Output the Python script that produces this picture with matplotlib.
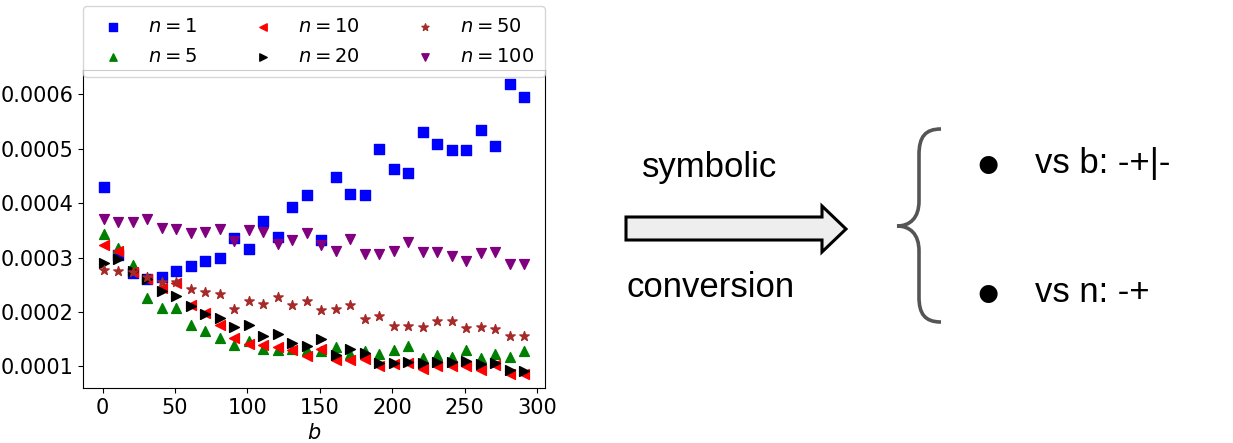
import numpy as np
import matplotlib
matplotlib.use("Agg")
import matplotlib.pyplot as plt
from matplotlib.path import Path
import matplotlib.patches as mpatches

W, H = 1233, 443

# block size b (x axis)
b_vals = [1, 11, 21, 31, 41, 51, 61, 71, 81, 91, 101, 111, 121, 131, 141,
          151, 161, 171, 181, 191, 201, 211, 221, 231, 241, 251, 261, 271, 281, 291]

n1 = [0.000430, 0.000304, 0.000272, 0.000261, 0.000264, 0.000275, 0.000285, 0.000294,
      0.000300, 0.000336, 0.000316, 0.000368, 0.000337, 0.000393, 0.000415, 0.000333,
      0.000448, 0.000416, 0.000415, 0.000500, 0.000463, 0.000455, 0.000530, 0.000508,
      0.000497, 0.000497, 0.000535, 0.000505, 0.000618, 0.000595]
n5 = [0.000343, 0.000317, 0.000287, 0.000226, 0.000208, 0.000208, 0.000177, 0.000166,
      0.000152, 0.000140, 0.000147, 0.000133, 0.000130, 0.000133, 0.000131, 0.000128,
      0.000135, 0.000123, 0.000129, 0.000123, 0.000130, 0.000137, 0.000115, 0.000121,
      0.000117, 0.000130, 0.000115, 0.000123, 0.000117, 0.000129]
n10 = [0.000323, 0.000313, 0.000274, 0.000261, 0.000244, 0.000254, 0.000212, 0.000198,
       0.000176, 0.000152, 0.000142, 0.000139, 0.000136, 0.000130, 0.000120, 0.000133,
       0.000112, 0.000112, 0.000114, 0.000101, 0.000104, 0.000106, 0.000095, 0.000100,
       0.000101, 0.000101, 0.000093, 0.000102, 0.000087, 0.000087]
n20 = [0.000290, 0.000297, 0.000276, 0.000261, 0.000238, 0.000230, 0.000211, 0.000196,
       0.000189, 0.000173, 0.000176, 0.000156, 0.000159, 0.000144, 0.000138, 0.000150,
       0.000121, 0.000133, 0.000124, 0.000107, 0.000106, 0.000109, 0.000106, 0.000109,
       0.000109, 0.000110, 0.000104, 0.000107, 0.000094, 0.000091]
n50 = [0.000278, 0.000275, 0.000273, 0.000264, 0.000255, 0.000256, 0.000242, 0.000236,
       0.000233, 0.000206, 0.000221, 0.000214, 0.000228, 0.000213, 0.000221, 0.000204,
       0.000206, 0.000213, 0.000188, 0.000192, 0.000174, 0.000175, 0.000173, 0.000184,
       0.000184, 0.000171, 0.000172, 0.000168, 0.000156, 0.000156]
n100 = [0.000370, 0.000365, 0.000366, 0.000371, 0.000355, 0.000353, 0.000346, 0.000347,
        0.000353, 0.000330, 0.000350, 0.000347, 0.000325, 0.000333, 0.000345, 0.000323,
        0.000312, 0.000335, 0.000306, 0.000307, 0.000313, 0.000328, 0.000310, 0.000311,
        0.000302, 0.000293, 0.000309, 0.000310, 0.000289, 0.000288]

series = [("$n=1$", n1, "s", "blue"),
          ("$n=5$", n5, "^", "green"),
          ("$n=10$", n10, "<", "red"),
          ("$n=20$", n20, ">", "black"),
          ("$n=50$", n50, "*", "brown"),
          ("$n=100$", n100, "v", "purple")]


def px(x, y):
    """pixel (from top-left) -> figure fraction"""
    return x / W, 1 - y / H


fig = plt.figure(figsize=(W / 100, H / 100), dpi=100)

# left: scatter plot
ax = fig.add_axes([83 / W, 1 - 388 / H, (545 - 83) / W, (388 - 70) / H])
for label, vals, marker, color in series:
    ax.scatter(b_vals, vals, s=50, marker=marker, color=color, label=label)
ax.set_xlabel("$b$", fontsize=15)
ax.tick_params(labelsize=15)
ax.set_xticks([0, 50, 100, 150, 200, 250, 300])
ax.set_yticks([0.0001, 0.0002, 0.0003, 0.0004, 0.0005, 0.0006])
ax.set_yticklabels(["0.0001", "0.0002", "0.0003", "0.0004", "0.0005", "0.0006"])
ax.legend(loc="lower left", bbox_to_anchor=(0, 0.978, 1, 0.2), mode="expand",
          borderaxespad=0, ncol=3, fontsize=14, markerscale=0.75,
          labelspacing=0.6, borderpad=0.55)

# right: arrow with caption
sans = ["Liberation Sans", "DejaVu Sans"]
fig.text(*px(710, 177), "symbolic", fontsize=25, family=sans, ha="center", va="baseline")
fig.text(*px(711, 297), "conversion", fontsize=25, family=sans, ha="center", va="baseline")

arrow_pts = [(626, 217), (822, 217), (822, 206), (846, 229), (822, 252),
             (822, 240), (626, 240)]
fig.patches.append(mpatches.Polygon([px(*p) for p in arrow_pts], closed=True,
                                    facecolor="#eeeeee", edgecolor="black", lw=2.2,
                                    joinstyle="miter", transform=fig.transFigure))

# curly brace
brace = [(941, 129), (925, 129), (919, 137), (919, 155),
         (919, 201),
         (919, 218), (910, 226), (897, 226),
         (910, 226), (919, 234), (919, 251),
         (919, 297),
         (919, 314), (925, 322), (941, 322)]
codes = [Path.MOVETO, Path.CURVE4, Path.CURVE4, Path.CURVE4,
         Path.LINETO,
         Path.CURVE4, Path.CURVE4, Path.CURVE4,
         Path.CURVE4, Path.CURVE4, Path.CURVE4,
         Path.LINETO,
         Path.CURVE4, Path.CURVE4, Path.CURVE4]
fig.patches.append(mpatches.PathPatch(Path([px(*p) for p in brace], codes),
                                      facecolor="none", edgecolor="#555555", lw=2.6,
                                      capstyle="butt", transform=fig.transFigure))

# bullet points
for y_b, txt in [(163, "vs b: -+|-"), (292, "vs n: -+")]:
    fig.text(*px(988, y_b + 7), "\u2022", fontsize=48, family=sans, ha="center", va="center")
    fig.text(*px(1035, y_b + 10), txt, fontsize=25, family=sans, ha="left", va="baseline")

fig.savefig("out.png", dpi=100)
